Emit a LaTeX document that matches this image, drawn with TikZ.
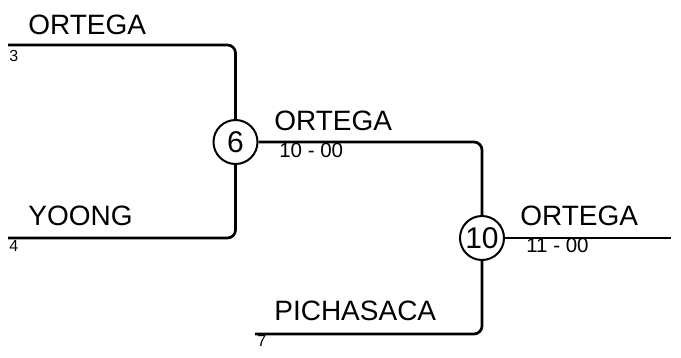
\documentclass[tikz,border=0pt]{standalone}
\usepackage{fontspec}
\setmainfont{Liberation Sans}
\usetikzlibrary{positioning}

\begin{document}
\begin{tikzpicture}[x=1pt, y=-1pt, line width=2.7pt,
  every node/.style={inner sep=0pt},
  player/.style={font=\fontsize{28}{28}\selectfont, anchor=base west},
  seed/.style={font=\fontsize{16}{16}\selectfont, anchor=base west},
  score/.style={font=\fontsize{20.5}{20.5}\selectfont, anchor=base west},
  game/.style={circle, draw, line width=2pt, minimum size=44pt,
    font=\fontsize{30}{30}\selectfont}]

\useasboundingbox (0,0) rectangle (681,357);

% --- Games ---
\node[game] (g6)  at (235.5,142) {6};
\node[game] (g10) at (482,238)   {10};

% Free ends of the lines
\coordinate (s3)  at (8,45);
\coordinate (s4)  at (8,238);
\coordinate (s7)  at (255,334);
\coordinate (win) at (671,238);

% --- Lines ---
\draw[rounded corners=8pt] (s3) -| (g6);
\draw[rounded corners=8pt] (s4) -| (g6);
\draw[rounded corners=8pt] (g6) -| (g10);
\draw[rounded corners=8pt] (s7) -| (g10);
\draw (g10) -- (win);

% Player names
\foreach \x/\y/\t/\n in {
  27/34/ORTEGA/p3,
  27/225/YOONG/p4,
  273/130/ORTEGA/w6,
  273/320/PICHASACA/p7,
  519/225/ORTEGA/w10
}
  \node[player] (\n) at (\x,\y) {\t};

% Seeds
\foreach \x/\y/\t/\n in {
  8/61/3/n3,
  8/251/4/n4,
  256/346/7/n7
}
  \node[seed] (\n) at (\x,\y) {\t};

% Scores
\node[score] (r6)  at (278,157) {10 - 00};
\node[score] (r10) at (525,252) {11 - 00};

\end{tikzpicture}
\end{document}
